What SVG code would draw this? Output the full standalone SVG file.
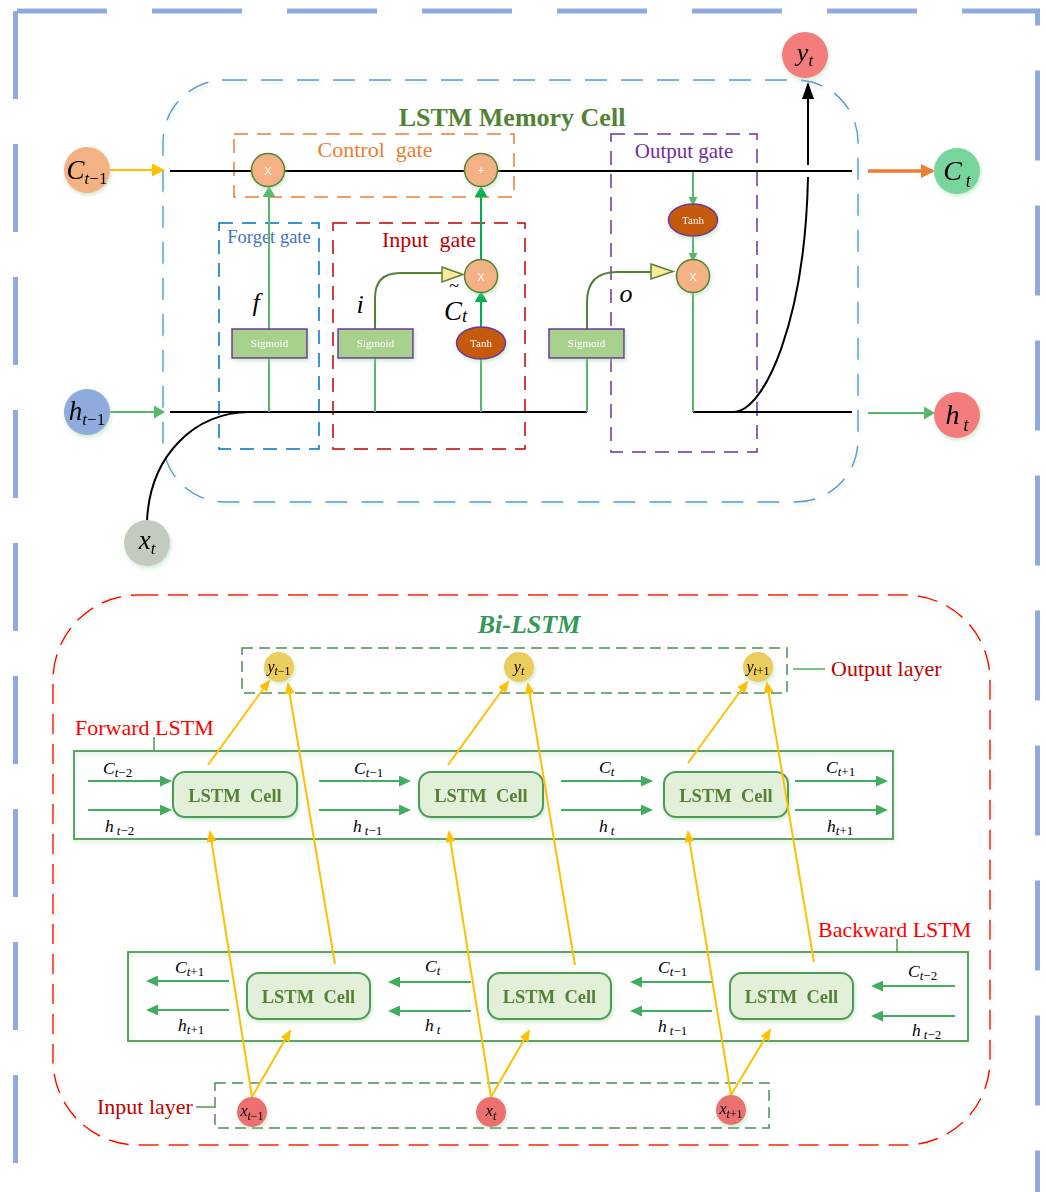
<svg xmlns="http://www.w3.org/2000/svg" width="1046" height="1192" viewBox="0 0 1046 1192">
<defs>
<style>
text { font-family: "Liberation Serif", "Times New Roman", serif; }
.i { font-style: italic; }
.n { font-style: normal; }
.pre { white-space: pre; }
.frame { fill: none; stroke: #8FAADC; stroke-width: 5; }
.blk { fill: none; stroke: #000; stroke-width: 2; }
.lg { fill: none; stroke: #58B86A; stroke-width: 2; }
.bg { fill: none; stroke: #00B050; stroke-width: 2; }
.dg { fill: none; stroke: #548235; stroke-width: 2; }
.ga { fill: none; stroke: #41AD5E; stroke-width: 2.2; }
.ya { fill: none; stroke: #FFC000; stroke-width: 2; }
.sig { fill: #A9D18E; stroke: #7030A0; stroke-width: 1.5; }
.sigt { fill: #fff; font-size: 11px; text-anchor: middle; }
.tanh { fill: #C55A11; stroke: #7030A0; stroke-width: 1.5; }
.op { fill: #F4B183; stroke: #548235; stroke-width: 1.5; }
.opt { fill: #fff; font-family: "Liberation Sans", Arial, sans-serif; font-size: 11px; text-anchor: middle; }
.tri { fill: #FFE699; stroke: #548235; stroke-width: 1.5; }
.cell { fill: #E2F0D9; stroke: #4E9A5A; stroke-width: 2; }
.cellt { fill: #548235; font-weight: bold; font-size: 18.5px; text-anchor: middle; white-space: pre; }
.lay { fill: none; stroke: #4C8F55; stroke-width: 1.5; stroke-dasharray: 11 6; }
.box { fill: none; stroke: #4C9A58; stroke-width: 1.8; }
.red { fill: #FF0000; font-size: 22px; }
.dred { fill: #C00000; font-size: 22px; }
.lbl { font-size: 17.5px; }
.sub { font-size: 13px; }
.ycirc { fill: #EACD5C; }
.xcirc { fill: #EB7070; }
</style>
<filter id="sh" x="-30%" y="-30%" width="160%" height="160%">
<feDropShadow dx="1" dy="2" stdDeviation="2" flood-color="#9ED49E" flood-opacity="0.55"/>
</filter>
<marker id="mY" viewBox="0 0 12 10" refX="10" refY="5" markerWidth="12" markerHeight="10" markerUnits="userSpaceOnUse" orient="auto"><path d="M0,0 L12,5 L0,10 z" fill="#FFC000"/></marker>
<marker id="mG" viewBox="0 0 12 11" refX="10" refY="5.5" markerWidth="12" markerHeight="11" markerUnits="userSpaceOnUse" orient="auto"><path d="M0,0 L12,5.5 L0,11 z" fill="#41AD5E"/></marker>
<marker id="mLG" viewBox="0 0 11 13" refX="9" refY="6.5" markerWidth="11" markerHeight="13" markerUnits="userSpaceOnUse" orient="auto"><path d="M0,0 L11,6.5 L0,13 z" fill="#58B86A"/></marker>
<marker id="mLGs" viewBox="0 0 9 9" refX="7" refY="4.5" markerWidth="9" markerHeight="9" markerUnits="userSpaceOnUse" orient="auto"><path d="M0,0 L9,4.5 L0,9 z" fill="#58B86A"/></marker>
<marker id="mBG" viewBox="0 0 11 13" refX="9" refY="6.5" markerWidth="11" markerHeight="13" markerUnits="userSpaceOnUse" orient="auto"><path d="M0,0 L11,6.5 L0,13 z" fill="#00B050"/></marker>
<marker id="mYb" viewBox="0 0 13 13" refX="11" refY="6.5" markerWidth="13" markerHeight="13" markerUnits="userSpaceOnUse" orient="auto"><path d="M0,0 L13,6.5 L0,13 z" fill="#FFC000"/></marker>
<marker id="mO" viewBox="0 0 14 14" refX="12" refY="7" markerWidth="14" markerHeight="14" markerUnits="userSpaceOnUse" orient="auto"><path d="M0,0 L14,7 L0,14 z" fill="#ED7D31"/></marker>
<marker id="mK" viewBox="0 0 17 12" refX="15" refY="6" markerWidth="17" markerHeight="12" markerUnits="userSpaceOnUse" orient="auto"><path d="M0,0 L17,6 L0,12 z" fill="#000"/></marker>
</defs>

<rect width="1046" height="1192" fill="#fff"/>

<!-- outer frame -->
<g id="frame">
<path class="frame" d="M17 11 H1037.5 V1200" stroke-dasharray="90 45"/>
<path class="frame" d="M15.5 11 V1200" stroke-dasharray="88 45"/>
</g>

<!-- ============ LSTM memory cell ============ -->
<g id="memory-cell">
<rect x="163" y="80" width="695" height="422" rx="62" fill="none" stroke="#5B9BD5" stroke-width="1.4" stroke-dasharray="22 14" filter="url(#sh)"/>
<text x="512" y="126" text-anchor="middle" font-size="26" font-weight="bold" fill="#548235">LSTM Memory Cell</text>
</g>

<g id="control-gate">
<rect x="234" y="134" width="280" height="63" fill="none" stroke="#ED7D31" stroke-width="1.5" stroke-dasharray="14 9"/>
<text class="pre" xml:space="preserve" x="375" y="157" text-anchor="middle" font-size="22" fill="#ED7D31">Control  gate</text>
</g>
<g id="forget-gate">
<rect x="219" y="223" width="100" height="226" fill="none" stroke="#0070C0" stroke-width="1.5" stroke-dasharray="14 9"/>
<text x="269" y="243" text-anchor="middle" font-size="18.5" fill="#4472C4">Forget gate</text>
</g>
<g id="input-gate">
<rect x="333" y="223" width="192" height="226" fill="none" stroke="#C00000" stroke-width="1.5" stroke-dasharray="14 9"/>
<text class="pre" xml:space="preserve" x="429" y="247" text-anchor="middle" font-size="22" fill="#C00000">Input  gate</text>
</g>
<g id="output-gate">
<rect x="611" y="134" width="146" height="318" fill="none" stroke="#7030A0" stroke-width="1.5" stroke-dasharray="14 9"/>
<text x="684" y="158" text-anchor="middle" font-size="21" fill="#7030A0">Output gate</text>
</g>

<!-- connectors of memory cell -->
<g id="cell-connectors">
<path class="blk" d="M170 171 H852"/>
<path class="blk" d="M170 412 H587"/>
<path class="blk" d="M693 412 H852"/>
<path class="blk" d="M147 521 C150 455 195 412 250 412"/>
<path class="blk" d="M733 412 C765 412 805 320 808 177"/>
<path class="blk" d="M808 165 V84" marker-end="url(#mK)"/>
<path d="M110 170 H163" fill="none" stroke="#FFC000" stroke-width="2" marker-end="url(#mYb)"/>
<path d="M110 412 H163" class="lg" marker-end="url(#mLG)"/>
<path d="M868 171 H933" fill="none" stroke="#ED7D31" stroke-width="3.5" marker-end="url(#mO)"/>
<path d="M868 413 H933" class="lg" marker-end="url(#mLG)"/>
<!-- forget -->
<path class="lg" d="M269 412 V358"/>
<path class="lg" d="M269 329 V188" marker-end="url(#mLG)"/>
<!-- input -->
<path class="lg" d="M375 412 V358"/>
<path class="dg" d="M375 329 V298 Q375 273 400 273 H444"/>
<path class="lg" d="M481 412 V359"/>
<path class="bg" d="M481 327 V293" marker-end="url(#mBG)"/>
<path class="bg" d="M481 260 V188" marker-end="url(#mBG)"/>
<!-- output -->
<path class="lg" d="M587 412 V358"/>
<path class="dg" d="M587 329 V302 Q587 272 617 272 H653"/>
<path class="lg" d="M693 172 V204" marker-end="url(#mLGs)"/>
<path class="lg" d="M693 236 V260" marker-end="url(#mLGs)"/>
<path class="lg" d="M693 292 V412"/>
<polygon class="tri" points="442,267 463,274.5 442,282"/>
<polygon class="tri" points="651,264 673,271.5 651,279"/>
</g>

<g id="op-forget-x" filter="url(#sh)"><circle class="op" cx="268" cy="170" r="16.5"/><text class="opt" x="268" y="174.5">X</text></g>
<g id="op-plus" filter="url(#sh)"><circle class="op" cx="481" cy="170" r="16.5"/><text class="opt" x="481" y="174">+</text></g>
<g id="op-input-x" filter="url(#sh)"><circle class="op" cx="481" cy="276" r="16.5"/><text class="opt" x="481" y="280.5">X</text></g>
<g id="op-output-x" filter="url(#sh)"><circle class="op" cx="693" cy="276" r="16.5"/><text class="opt" x="693" y="280.5">X</text></g>

<g id="sigmoid-f" filter="url(#sh)"><rect class="sig" x="232" y="329" width="75" height="29"/><text class="sigt" x="269.5" y="347">Sigmoid</text></g>
<g id="sigmoid-i" filter="url(#sh)"><rect class="sig" x="338" y="329" width="75" height="29"/><text class="sigt" x="375.5" y="347">Sigmoid</text></g>
<g id="sigmoid-o" filter="url(#sh)"><rect class="sig" x="549" y="329" width="75" height="29"/><text class="sigt" x="586.5" y="347">Sigmoid</text></g>
<g id="tanh-i" filter="url(#sh)"><ellipse class="tanh" cx="481" cy="343" rx="24.5" ry="16"/><text class="sigt" x="481" y="347" font-size="11.5">Tanh</text></g>
<g id="tanh-o" filter="url(#sh)"><ellipse class="tanh" cx="693" cy="220" rx="24.5" ry="16"/><text class="sigt" x="693" y="224" font-size="11.5">Tanh</text></g>

<g id="gate-symbols">
<text x="256" y="311" text-anchor="middle" font-size="26" class="i">f</text>
<text x="360" y="313" text-anchor="middle" font-size="26" class="i">i</text>
<text x="454" y="292" text-anchor="middle" font-size="18">~</text>
<text x="444" y="320" font-size="27" class="i">C<tspan font-size="19" dy="2">t</tspan></text>
<text x="626" y="302" text-anchor="middle" font-size="26" class="i">o</text>
</g>

<g id="node-c-prev" filter="url(#sh)"><circle cx="87" cy="170" r="23" fill="#F4B183"/><text x="87" y="179" text-anchor="middle"><tspan class="i" font-size="27">C</tspan><tspan class="i" font-size="17" dy="5">t</tspan><tspan font-size="17">−1</tspan></text></g>
<g id="node-h-prev" filter="url(#sh)"><circle cx="87" cy="412" r="23" fill="#8FAADC"/><text x="87" y="420" text-anchor="middle"><tspan class="i" font-size="27">h</tspan><tspan class="i" font-size="17" dy="5">t</tspan><tspan font-size="17">−1</tspan></text></g>
<g id="node-xt" filter="url(#sh)"><circle cx="147" cy="543" r="23" fill="#C3CBC1"/><text x="147" y="549" text-anchor="middle"><tspan class="i" font-size="27">x</tspan><tspan class="i" font-size="17" dy="5">t</tspan></text></g>
<g id="node-yt" filter="url(#sh)"><circle cx="805" cy="55" r="23" fill="#F47C7C"/><text x="805" y="61" text-anchor="middle"><tspan class="i" font-size="26">y</tspan><tspan class="i" font-size="17" dy="5">t</tspan></text></g>
<g id="node-ct" filter="url(#sh)"><circle cx="957" cy="171" r="23" fill="#78D59E"/><text x="957" y="180" text-anchor="middle"><tspan class="i" font-size="28">C</tspan><tspan class="i" font-size="18" dx="4" dy="7">t</tspan></text></g>
<g id="node-ht" filter="url(#sh)"><circle cx="957" cy="415" r="23" fill="#F47C7C"/><text x="957" y="424" text-anchor="middle"><tspan class="i" font-size="28">h</tspan><tspan class="i" font-size="18" dx="4" dy="7">t</tspan></text></g>

<!-- ============ Bi-LSTM ============ -->
<g id="bilstm">
<rect x="53" y="595" width="937" height="550" rx="85" fill="none" stroke="#FF0000" stroke-width="1.5" stroke-dasharray="20 10" filter="url(#sh)"/>
<text x="529" y="633" text-anchor="middle" font-size="26" font-weight="bold" font-style="italic" fill="#339957">Bi-LSTM</text>
</g>

<g id="output-layer">
<rect class="lay" x="242" y="648" width="545" height="45"/>
<path d="M793 669 H825" stroke="#4CAF50" stroke-width="1.5"/>
<text class="dred" x="831" y="676">Output layer</text>
</g>
<g id="forward-lstm">
<rect class="box" x="74" y="751" width="819" height="88" filter="url(#sh)"/>
<path d="M154 737 V751" stroke="#4C9A58" stroke-width="1.5"/>
<text class="red" x="75" y="735">Forward LSTM</text>
</g>
<g id="backward-lstm">
<rect class="box" x="128" y="952" width="840" height="89" filter="url(#sh)"/>
<path d="M897 939 V952" stroke="#4C9A58" stroke-width="1.5"/>
<text class="red" x="818" y="937">Backward LSTM</text>
</g>
<g id="input-layer">
<rect class="lay" x="215" y="1083" width="554" height="45"/>
<path d="M196 1107 H215" stroke="#4C9A58" stroke-width="1.5"/>
<text class="dred" x="97" y="1114">Input layer</text>
</g>

<g id="f-cell-1" filter="url(#sh)"><rect class="cell" x="173" y="772" width="124" height="45" rx="12"/><text class="cellt" xml:space="preserve" x="235" y="802">LSTM  Cell</text></g>
<g id="f-cell-2" filter="url(#sh)"><rect class="cell" x="419" y="772" width="124" height="45" rx="12"/><text class="cellt" xml:space="preserve" x="481" y="802">LSTM  Cell</text></g>
<g id="f-cell-3" filter="url(#sh)"><rect class="cell" x="664" y="772" width="124" height="45" rx="12"/><text class="cellt" xml:space="preserve" x="726" y="802">LSTM  Cell</text></g>
<g id="b-cell-1" filter="url(#sh)"><rect class="cell" x="247" y="973" width="123" height="46" rx="12"/><text class="cellt" xml:space="preserve" x="308.5" y="1003">LSTM  Cell</text></g>
<g id="b-cell-2" filter="url(#sh)"><rect class="cell" x="488" y="973" width="123" height="46" rx="12"/><text class="cellt" xml:space="preserve" x="549.5" y="1003">LSTM  Cell</text></g>
<g id="b-cell-3" filter="url(#sh)"><rect class="cell" x="730" y="973" width="123" height="46" rx="12"/><text class="cellt" xml:space="preserve" x="791.5" y="1003">LSTM  Cell</text></g>

<g id="bi-connectors">
<!-- forward arrows -->
<path class="ga" d="M88 781 H170" marker-end="url(#mG)"/>
<path class="ga" d="M88 810 H170" marker-end="url(#mG)"/>
<path class="ga" d="M319 781 H409" marker-end="url(#mG)"/>
<path class="ga" d="M319 810 H409" marker-end="url(#mG)"/>
<path class="ga" d="M561 781 H651" marker-end="url(#mG)"/>
<path class="ga" d="M561 810 H651" marker-end="url(#mG)"/>
<path class="ga" d="M795 781 H886" marker-end="url(#mG)"/>
<path class="ga" d="M795 810 H886" marker-end="url(#mG)"/>
<!-- backward arrows -->
<path class="ga" d="M229 981 H148" marker-end="url(#mG)"/>
<path class="ga" d="M229 1010 H148" marker-end="url(#mG)"/>
<path class="ga" d="M471 982 H390" marker-end="url(#mG)"/>
<path class="ga" d="M471 1011 H390" marker-end="url(#mG)"/>
<path class="ga" d="M712 982 H632" marker-end="url(#mG)"/>
<path class="ga" d="M712 1011 H632" marker-end="url(#mG)"/>
<path class="ga" d="M955 986 H873" marker-end="url(#mG)"/>
<path class="ga" d="M955 1016 H873" marker-end="url(#mG)"/>
<!-- yellow: forward cells to outputs -->
<path class="ya" d="M208 765 L269 681" marker-end="url(#mY)"/>
<path class="ya" d="M448 765 L508 682" marker-end="url(#mY)"/>
<path class="ya" d="M688 763 L747 682" marker-end="url(#mY)"/>
<!-- yellow: backward cells to outputs -->
<path class="ya" d="M335 964 L288 684" marker-end="url(#mY)"/>
<path class="ya" d="M575 965 L528 684" marker-end="url(#mY)"/>
<path class="ya" d="M814 962 L767 683" marker-end="url(#mY)"/>
<!-- yellow: inputs to forward cells -->
<path class="ya" d="M252 1097 L210 832" marker-end="url(#mY)"/>
<path class="ya" d="M491 1097 L449 832" marker-end="url(#mY)"/>
<path class="ya" d="M731 1095 L688 832" marker-end="url(#mY)"/>
<!-- yellow: inputs to backward cells -->
<path class="ya" d="M252 1097 L290 1031" marker-end="url(#mY)"/>
<path class="ya" d="M491 1097 L529 1031" marker-end="url(#mY)"/>
<path class="ya" d="M731 1095 L770 1030" marker-end="url(#mY)"/>
</g>

<g id="state-labels">
<text class="lbl" x="103" y="774"><tspan class="i">C</tspan><tspan class="sub i" dy="3">t</tspan><tspan class="sub">−2</tspan></text>
<text class="lbl" x="105" y="832"><tspan class="i">h</tspan><tspan class="sub i" dx="3" dy="3">t</tspan><tspan class="sub">−2</tspan></text>
<text class="lbl" x="354" y="774"><tspan class="i">C</tspan><tspan class="sub i" dy="3">t</tspan><tspan class="sub">−1</tspan></text>
<text class="lbl" x="353" y="832"><tspan class="i">h</tspan><tspan class="sub i" dx="3" dy="3">t</tspan><tspan class="sub">−1</tspan></text>
<text class="lbl" x="599" y="773"><tspan class="i">C</tspan><tspan class="sub i" dy="3">t</tspan></text>
<text class="lbl" x="599" y="832"><tspan class="i">h</tspan><tspan class="sub i" dx="3" dy="3">t</tspan></text>
<text class="lbl" x="826" y="773"><tspan class="i">C</tspan><tspan class="sub i" dy="3">t</tspan><tspan class="sub">+1</tspan></text>
<text class="lbl" x="827" y="832"><tspan class="i">h</tspan><tspan class="sub i" dy="3">t</tspan><tspan class="sub">+1</tspan></text>
<text class="lbl" x="175" y="973"><tspan class="i">C</tspan><tspan class="sub i" dy="3">t</tspan><tspan class="sub">+1</tspan></text>
<text class="lbl" x="178" y="1031"><tspan class="i">h</tspan><tspan class="sub i" dy="3">t</tspan><tspan class="sub">+1</tspan></text>
<text class="lbl" x="425" y="972"><tspan class="i">C</tspan><tspan class="sub i" dy="3">t</tspan></text>
<text class="lbl" x="425" y="1031"><tspan class="i">h</tspan><tspan class="sub i" dx="3" dy="3">t</tspan></text>
<text class="lbl" x="658" y="973"><tspan class="i">C</tspan><tspan class="sub i" dy="3">t</tspan><tspan class="sub">−1</tspan></text>
<text class="lbl" x="658" y="1032"><tspan class="i">h</tspan><tspan class="sub i" dx="3" dy="3">t</tspan><tspan class="sub">−1</tspan></text>
<text class="lbl" x="908" y="977"><tspan class="i">C</tspan><tspan class="sub i" dy="3">t</tspan><tspan class="sub">−2</tspan></text>
<text class="lbl" x="912" y="1036"><tspan class="i">h</tspan><tspan class="sub i" dx="3" dy="3">t</tspan><tspan class="sub">−2</tspan></text>
</g>

<g id="y-prev" filter="url(#sh)"><circle class="ycirc" cx="279" cy="667" r="15"/><text x="279" y="672" text-anchor="middle"><tspan class="i" font-size="16">y</tspan><tspan class="i" font-size="12" dy="3">t</tspan><tspan font-size="12">−1</tspan></text></g>
<g id="y-cur" filter="url(#sh)"><circle class="ycirc" cx="519" cy="667" r="15"/><text x="519" y="672" text-anchor="middle"><tspan class="i" font-size="16">y</tspan><tspan class="i" font-size="12" dy="3">t</tspan></text></g>
<g id="y-next" filter="url(#sh)"><circle class="ycirc" cx="758" cy="667" r="15"/><text x="758" y="672" text-anchor="middle"><tspan class="i" font-size="16">y</tspan><tspan class="i" font-size="12" dy="3">t</tspan><tspan font-size="12">+1</tspan></text></g>
<g id="x-prev" filter="url(#sh)"><circle class="xcirc" cx="252" cy="1112" r="15"/><text x="252" y="1116" text-anchor="middle"><tspan class="i" font-size="16">x</tspan><tspan class="i" font-size="12" dy="4">t</tspan><tspan font-size="12">−1</tspan></text></g>
<g id="x-cur" filter="url(#sh)"><circle class="xcirc" cx="491" cy="1112" r="15"/><text x="491" y="1116" text-anchor="middle"><tspan class="i" font-size="16">x</tspan><tspan class="i" font-size="12" dy="4">t</tspan></text></g>
<g id="x-next" filter="url(#sh)"><circle class="xcirc" cx="731" cy="1110" r="15"/><text x="731" y="1114" text-anchor="middle"><tspan class="i" font-size="16">x</tspan><tspan class="i" font-size="12" dy="4">t</tspan><tspan font-size="12">+1</tspan></text></g>
</svg>
